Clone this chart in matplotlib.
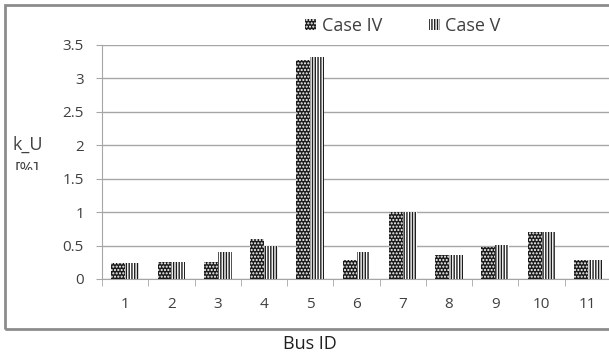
import matplotlib
matplotlib.use("Agg")
import matplotlib.pyplot as plt
from matplotlib.patches import Rectangle, Patch
import numpy as np

plt.rcParams['font.family'] = ['Open Sans', 'DejaVu Sans']
plt.rcParams['hatch.linewidth'] = 1.0

buses = ['1', '2', '3', '4', '5', '6', '7', '8', '9', '10', '11']
case_iv = [0.24, 0.26, 0.26, 0.60, 3.27, 0.28, 1.00, 0.36, 0.48, 0.71, 0.29]
case_v = [0.24, 0.26, 0.41, 0.50, 3.32, 0.41, 1.00, 0.36, 0.51, 0.71, 0.29]
yticks = [0, 0.5, 1, 1.5, 2, 2.5, 3, 3.5]
ytick_labels = ['0', '0.5', '1', '1.5', '2', '2.5', '3', '3.5']

W, H = 609, 356
fig = plt.figure(figsize=(W / 100, H / 100), dpi=100)
ax = fig.add_axes([102 / W, 77 / H, 509 / W, 234 / H])

txt = '#404040'
grid = '#a6a6a6'
x = np.arange(1, len(buses) + 1)
w = 0.3
ax.bar(x - w / 2, case_iv, w, facecolor='#1c1c1c', edgecolor='white', hatch='.....', linewidth=0, zorder=3)
ax.bar(x + w / 2, case_v, w, facecolor='white', edgecolor='#1c1c1c', hatch='||||||', linewidth=0, zorder=3)

ax.set_xlim(0.5, len(buses) + 0.5)
ax.set_ylim(0, 3.5)
ax.set_yticks(yticks)
ax.set_yticklabels(ytick_labels)
ax.set_xticks(x)
ax.set_xticklabels(buses)
ax.set_xticks(np.arange(0.5, len(buses) + 1, 1), minor=True)
ax.yaxis.grid(True, color=grid, linewidth=1.0, zorder=0)
ax.set_axisbelow(True)
for s in ['top', 'right']:
    ax.spines[s].set_visible(False)
ax.spines['left'].set_color(grid)
ax.spines['bottom'].set_color(grid)
ax.tick_params(axis='x', which='major', length=0, pad=13, labelsize=11, labelcolor=txt)
ax.tick_params(axis='x', which='minor', length=5, color=grid, direction='out')
ax.tick_params(axis='y', length=4, color=grid, pad=9, labelsize=11, labelcolor=txt)

handles = [Patch(facecolor='#1c1c1c', edgecolor='white', hatch='.....', linewidth=0),
           Patch(facecolor='white', edgecolor='#1c1c1c', hatch='||||||', linewidth=0)]
leg = fig.legend(handles, ['Case IV', 'Case V'], loc='center', bbox_to_anchor=(403 / W, 1 - 26 / H),
                 ncol=2, frameon=False, handlelength=0.6, handleheight=0.6, handletextpad=0.3,
                 columnspacing=2.6, fontsize=13)
for t in leg.get_texts():
    t.set_color(txt)

fig.text(28 / W, 1 - 145 / H, 'k_U', ha='center', va='center', fontsize=13, color=txt)
pct = fig.text(27 / W, 1 - 170 / H, '[%]', ha='center', va='center', fontsize=12, color=txt)
clip = Rectangle((0, 1 - 170 / H), 100 / W, 20 / H, transform=fig.transFigure)
pct.set_clip_path(clip)
fig.text(310 / W, 1 - 344 / H, 'Bus ID', ha='center', va='center', fontsize=13, color='#202020')

border = Rectangle((5 / W, 1 - 329 / H), 1.1, (329 - 5) / H, transform=fig.transFigure,
                   fill=False, edgecolor='#8c8c8c', linewidth=2.0)
fig.add_artist(border)

fig.savefig('out.png', dpi=100)
